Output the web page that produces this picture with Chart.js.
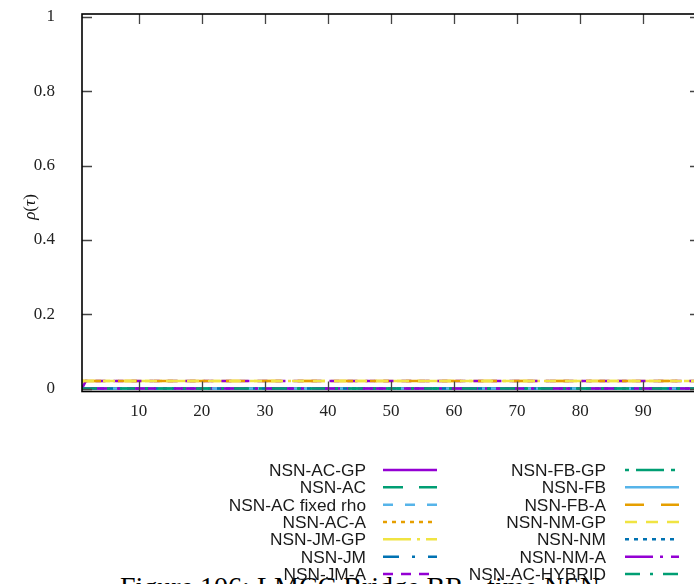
<!DOCTYPE html>
<html>
<head>
<meta charset="utf-8">
<script src="https://cdn.jsdelivr.net/npm/chart.js@4.4.1/dist/chart.umd.min.js"></script>
<style>
    html, body { margin: 0; padding: 0; width: 694px; height: 584px; overflow: hidden; background: #fff; }
    #wrap { position: relative; width: 694px; height: 584px; overflow: hidden; }
    #chart-box { position: absolute; left: 0; top: 0; width: 710px; height: 440px; }
    #ylabel {
        position: absolute; left: 30px; top: 207px;
        transform: translate(-50%, -50%) rotate(-90deg);
        font-family: "Liberation Serif", serif; font-size: 17px; color: #111; white-space: nowrap;
    }
    #ylabel i { font-style: italic; }
    #legend-lines { position: absolute; left: 0; top: 0; }
    .leg-text {
        position: absolute; font-family: "Liberation Sans", sans-serif; font-size: 17.3px;
        line-height: 20px; color: #1a1a1a; white-space: nowrap; text-align: right;
    }
    #caption {
        position: absolute; left: 120px; top: 571px;
        font-family: "Liberation Serif", serif; font-size: 28px; color: #000; white-space: nowrap;
    }
</style>
</head>
<body>
<div id="wrap">
    <div id="chart-box"><canvas id="profileChart"></canvas></div>
    <div id="ylabel"><i>ρ</i>(<i>τ</i>)</div>
    <div id="caption">Figure 106: LMCC Bridge BR - time NSN</div>
    <svg id="legend-lines" width="694" height="584"></svg>
    <div id="legend"></div>
</div>
<script>
// Data
const tau = [1, 1.6, 99];
const rhoNone = [0, 0, 0];
const rhoLow = [0.02, 0.02, 0.02];
const rhoLate = [0, 0.02, 0.02];

const xTicks = [10, 20, 30, 40, 50, 60, 70, 80, 90];
const yTicks = [0, 0.2, 0.4, 0.6, 0.8, 1];

const seriesNames = [
    "NSN-AC-GP", "NSN-AC", "NSN-AC fixed rho", "NSN-AC-A", "NSN-JM-GP", "NSN-JM", "NSN-JM-A",
    "NSN-FB-GP", "NSN-FB", "NSN-FB-A", "NSN-NM-GP", "NSN-NM", "NSN-NM-A", "NSN-AC-HYBRID"
];
const seriesRho = [
    rhoNone, rhoNone, rhoNone, rhoNone, rhoLow, rhoNone, rhoLate,
    rhoNone, rhoNone, rhoLow, rhoLow, rhoNone, rhoNone, rhoNone
];

// Styles (gnuplot default palette + dash types)
const seriesColors = [
    "#9400d3", "#009e73", "#56b4e9", "#e69f00", "#f0e442", "#0072b2", "#9400d3",
    "#009e73", "#56b4e9", "#e69f00", "#f0e442", "#0072b2", "#9400d3", "#009e73"
];
const seriesDash = [
    [], [20, 16], [10, 12], [4, 5], [28, 6, 3, 6], [16, 13, 3, 13], [10, 8],
    [4, 7, 28, 7], [], [19, 17], [12, 9], [4, 5], [28, 7, 3, 8], [15, 10, 3, 10]
];

// Frame with inward ticks, gnuplot style
const framePlugin = {
    id: "frame",
    afterDraw(chart) {
        const { ctx, chartArea: a, scales: { x, y } } = chart;
        ctx.save();
        ctx.strokeStyle = "#444";
        ctx.lineWidth = 1.3;
        ctx.beginPath();
        xTicks.forEach(v => {
            const px = Math.round(x.getPixelForValue(v)) + 0.5;
            ctx.moveTo(px, a.bottom); ctx.lineTo(px, a.bottom - 10);
            ctx.moveTo(px, a.top); ctx.lineTo(px, a.top + 10);
        });
        yTicks.forEach(v => {
            const py = Math.round(y.getPixelForValue(v)) + 0.5;
            ctx.moveTo(a.left, py); ctx.lineTo(a.left + 10, py);
            ctx.moveTo(a.right, py); ctx.lineTo(a.right - 10, py);
        });
        ctx.stroke();
        ctx.strokeStyle = "#000";
        ctx.lineWidth = 1.6;
        ctx.strokeRect(a.left, a.top, a.width, a.height);
        ctx.restore();
    }
};

// gnuplot draws later series on top; in Chart.js a lower order is drawn later
const datasets = seriesNames.map((name, i) => ({
    label: name,
    data: tau.map((t, k) => ({ x: t, y: seriesRho[i][k] })),
    borderColor: seriesColors[i],
    borderDash: seriesDash[i],
    borderWidth: 2.5,
    pointRadius: 0,
    tension: 0,
    fill: false,
    order: seriesNames.length - i
}));

const tickFont = { family: "Liberation Serif", size: 17 };

new Chart(document.getElementById("profileChart"), {
    type: "line",
    data: { datasets },
    options: {
        responsive: true,
        maintainAspectRatio: false,
        animation: false,
        layout: { padding: { left: 0, top: 14, right: 10, bottom: 0 } },
        plugins: { legend: { display: false }, tooltip: { enabled: false } },
        scales: {
            x: {
                type: "linear",
                min: 1,
                max: 99,
                grid: { display: false },
                border: { display: false },
                afterBuildTicks: s => { s.ticks = xTicks.map(v => ({ value: v })); },
                afterFit: s => { s.height = 48.5; s.paddingLeft = 0; s.paddingRight = 0; },
                ticks: { color: "#222", font: tickFont, padding: 2, maxRotation: 0, autoSkip: false }
            },
            y: {
                type: "linear",
                min: -0.008,
                max: 1.008,
                grid: { display: false },
                border: { display: false },
                afterBuildTicks: s => { s.ticks = yTicks.map(v => ({ value: v })); },
                afterFit: s => { s.width = 82; s.paddingTop = 0; s.paddingBottom = 0; },
                ticks: {
                    color: "#222", font: tickFont, padding: 19, autoSkip: false,
                    callback: v => String(Math.round(v * 10) / 10)
                }
            }
        }
    },
    plugins: [framePlugin]
});

// Legend: two columns, text right-aligned before the line sample
const svgNS = "http://www.w3.org/2000/svg";
const legendSvg = document.getElementById("legend-lines");
const legendBox = document.getElementById("legend");
const legendRows = 7;
const rowTop = 470, rowStep = 17.33;
const colTextRight = [366, 606];
const colSample = [[383, 437], [625, 679]];

seriesNames.forEach((name, i) => {
    const col = Math.floor(i / legendRows);
    const row = i % legendRows;
    const cy = rowTop + row * rowStep;

    const txt = document.createElement("div");
    txt.className = "leg-text";
    txt.textContent = name;
    txt.style.right = (694 - colTextRight[col]) + "px";
    txt.style.top = (cy - 10) + "px";
    legendBox.appendChild(txt);

    const ln = document.createElementNS(svgNS, "line");
    ln.setAttribute("x1", colSample[col][0]);
    ln.setAttribute("x2", colSample[col][1]);
    ln.setAttribute("y1", cy);
    ln.setAttribute("y2", cy);
    ln.setAttribute("stroke", seriesColors[i]);
    ln.setAttribute("stroke-width", 2.5);
    if (seriesDash[i].length) ln.setAttribute("stroke-dasharray", seriesDash[i].join(" "));
    legendSvg.appendChild(ln);
});
</script>
</body>
</html>
